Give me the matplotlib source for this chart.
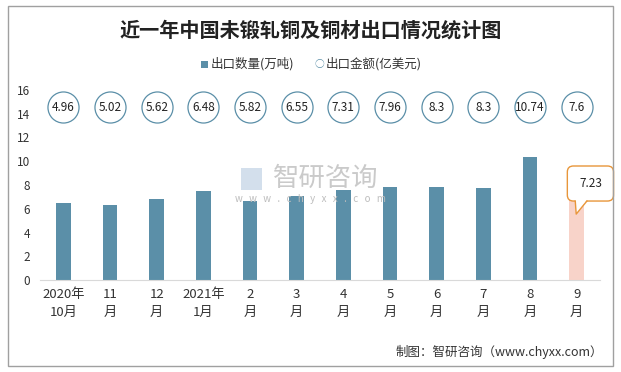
import matplotlib.pyplot as plt
from matplotlib.patches import Rectangle, FancyBboxPatch, Polygon

plt.rcParams['font.family'] = ['Noto Sans CJK SC', 'DejaVu Sans']

months = ['2020年\n10月', '11\n月', '12\n月', '2021年\n1月', '2\n月', '3\n月',
          '4\n月', '5\n月', '6\n月', '7\n月', '8\n月', '9\n月']
qty = [6.48, 6.32, 6.82, 7.49, 6.65, 7.07, 7.58, 7.83, 7.83, 7.75, 10.36, 7.23]
amount = ['4.96', '5.02', '5.62', '6.48', '5.82', '6.55', '7.31', '7.96',
          '8.3', '8.3', '10.74', '7.6']
yticks = [0, 2, 4, 6, 8, 10, 12, 14, 16]

blue = '#5b8fa8'
pink = '#f8d3c9'
orange = '#e8963a'

fig = plt.figure(figsize=(6.21, 3.72), dpi=100)
fig.patches.append(Rectangle((8 / 621, 1 - 366 / 372), 605 / 621, 360 / 372,
                             transform=fig.transFigure, fill=False,
                             edgecolor='#a0a0a0', linewidth=1))

ax = fig.add_axes([40 / 621, 1 - 280 / 372, 560 / 621, 190 / 372])
x = range(len(months))
colors = [blue] * (len(qty) - 1) + [pink]
ax.bar(x, qty, width=0.32, color=colors, zorder=2)

ax.scatter(x, [14.55] * len(x), s=500, facecolor='white', edgecolor=blue,
           linewidth=0.9, zorder=3)
for i, a in enumerate(amount):
    ax.text(i, 14.55, a, ha='center', va='center', fontsize=8.5,
            color='#222222', zorder=4)

ax.set_xlim(-0.5, 11.5)
ax.set_ylim(0, 16)
ax.set_yticks(yticks)
ax.set_xticks(list(x))
ax.set_xticklabels(months, fontsize=9.5, color='#333333', linespacing=1.5)
ax.tick_params(axis='y', length=0, labelsize=8.5, labelcolor='#333333', pad=7)
ax.tick_params(axis='x', length=0, pad=6)
for s in ['left', 'right', 'top']:
    ax.spines[s].set_visible(False)
ax.spines['bottom'].set_color('#d9d9d9')

# callout for last bar
last = len(qty) - 1
bx0, by0, bw, bh = last - 0.2, 6.65, 0.99, 2.95
ax.add_patch(FancyBboxPatch((bx0, by0), bw, bh,
                            boxstyle='round,pad=0,rounding_size=0.13',
                            facecolor='white', edgecolor=orange,
                            linewidth=1, zorder=5, clip_on=False,
                            mutation_aspect=3.9))
ax.add_patch(Polygon([(last - 0.03, by0 + 0.1), (last + 0.22, by0 + 0.1),
                      (last - 0.01, 5.55)], closed=True, facecolor='white',
                     edgecolor='none', zorder=6))
ax.plot([last - 0.03, last - 0.01, last + 0.22], [by0, 5.55, by0],
        color=orange, linewidth=1, zorder=7)
ax.text(bx0 + bw / 2, by0 + bh / 2, str(qty[last]), ha='center', va='center',
        fontsize=8.5, color='#222222', zorder=8)

fig.text(0.5, 1 - 30 / 372, '近一年中国未锻轧铜及铜材出口情况统计图', ha='center',
         va='center', fontsize=14.5, fontweight='bold', color='#222222')

# legend
fig.patches.append(Rectangle((201 / 621, 1 - 68 / 372), 7 / 621, 7 / 372,
                             transform=fig.transFigure, facecolor=blue,
                             edgecolor='none'))
fig.text(211 / 621, 1 - 64 / 372, '出口数量(万吨)', va='center', fontsize=9,
         color='#333333')
fig.text(319 / 621, 1 - 64 / 372, '○', va='center', ha='center', fontsize=7,
         color=blue)
fig.text(326 / 621, 1 - 64 / 372, '出口金额(亿美元)', va='center', fontsize=9,
         color='#333333')

# watermark
fig.text(326 / 621, 1 - 178 / 372, '智研咨询', ha='center', va='center',
         fontsize=19, color='#bdbdbd', alpha=0.8)
fig.patches.append(Rectangle((241 / 621, 1 - 190 / 372), 21 / 621, 22 / 372,
                             transform=fig.transFigure, facecolor='#c9d8e8',
                             edgecolor='none', alpha=0.8))
fig.text(310 / 621, 1 - 199 / 372, 'w   w   w   .   c   h   y   x   x   .   c   o   m',
         ha='center', va='center', fontsize=7, color='#bdbdbd')

fig.text(603 / 621, 1 - 352 / 372, '制图：智研咨询（www.chyxx.com）', ha='right',
         va='center', fontsize=9, color='#333333')

fig.savefig('out.png', dpi=100)
